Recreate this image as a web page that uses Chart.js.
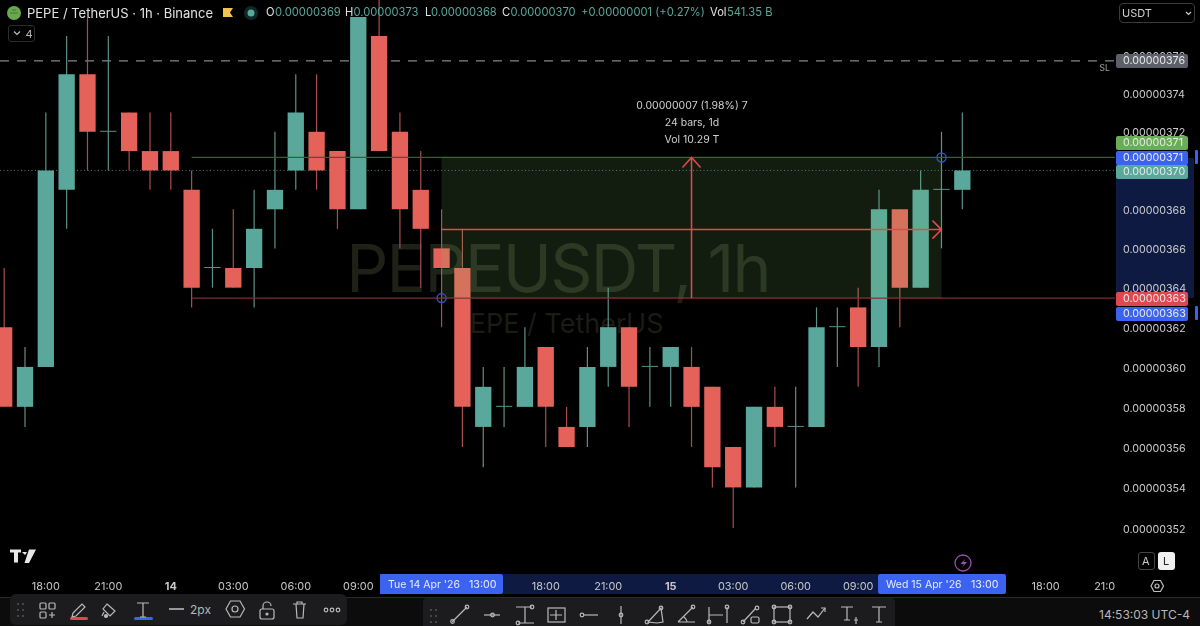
<!DOCTYPE html>
<html><head><meta charset="utf-8">
<script src="https://cdn.jsdelivr.net/npm/chart.js@4"></script>
<style>
html,body{margin:0;padding:0;background:#000;width:1200px;height:626px;overflow:hidden;font-family:Inter,"Noto Sans",sans-serif}
#stage{position:relative;width:1200px;height:626px;overflow:hidden}
#chart{position:absolute;left:0;top:0;z-index:1}
.a{position:absolute;white-space:pre;line-height:1}
.under{z-index:0}.over{z-index:2}
.pill{position:absolute;left:1116px;width:71.5px;color:#e8e8e8;font-size:10.7px;text-align:left;padding-left:7px;box-sizing:border-box;z-index:2;border-radius:2px}
svg{position:absolute;overflow:visible;z-index:3}
</style></head><body>
<div id="stage"><canvas id="chart" width="1200" height="626"></canvas></div>
<script>
// Candle data, hourly PEPE/USDT
const opens =[0.00000362,0.00000358,0.00000360,0.00000369,0.00000375,0.00000372,0.00000373,0.00000371,0.00000371,0.00000369,0.00000365,0.00000365,0.00000365,0.00000368,0.00000370,0.00000372,0.00000371,0.00000368,0.00000377,0.00000372,0.00000369,0.00000366,0.00000365,0.00000357,0.00000358,0.00000358,0.00000361,0.00000357,0.00000357,0.00000360,0.00000362,0.00000360,0.00000360,0.00000360,0.00000359,0.00000356,0.00000354,0.00000358,0.00000357,0.00000357,0.00000362,0.00000363,0.00000361,0.00000368,0.00000364,0.00000369,0.00000369];
const closes=[0.00000358,0.00000360,0.00000370,0.00000375,0.00000372,0.00000372,0.00000371,0.00000370,0.00000370,0.00000364,0.00000365,0.00000364,0.00000367,0.00000369,0.00000373,0.00000370,0.00000368,0.00000378,0.00000371,0.00000368,0.00000367,0.00000365,0.00000358,0.00000359,0.00000358,0.00000360,0.00000358,0.00000356,0.00000360,0.00000362,0.00000359,0.00000360,0.00000361,0.00000358,0.00000355,0.00000354,0.00000358,0.00000357,0.00000357,0.00000362,0.00000362,0.00000361,0.00000368,0.00000364,0.00000369,0.00000369,0.00000370];
const highs =[0.00000365,0.00000361,0.00000373,0.00000377,0.00000378,0.00000377,0.00000373,0.00000373,0.00000373,0.00000370,0.00000367,0.00000368,0.00000369,0.00000372,0.00000375,0.00000375,0.00000371,0.00000378,0.00000379,0.00000373,0.00000371,0.00000368,0.00000367,0.00000360,0.00000360,0.00000362,0.00000361,0.00000358,0.00000361,0.00000364,0.00000362,0.00000361,0.00000361,0.00000361,0.00000359,0.00000356,0.00000358,0.00000359,0.00000359,0.00000363,0.00000363,0.00000364,0.00000369,0.00000368,0.00000370,0.00000372,0.00000373];
const lows  =[0.00000358,0.00000357,0.00000360,0.00000367,0.00000370,0.00000370,0.00000370,0.00000369,0.00000369,0.00000363,0.00000364,0.00000364,0.00000363,0.00000366,0.00000369,0.00000369,0.00000367,0.00000368,0.00000371,0.00000366,0.00000364,0.00000362,0.00000356,0.00000355,0.00000357,0.00000358,0.00000356,0.00000356,0.00000356,0.00000359,0.00000357,0.00000358,0.00000358,0.00000356,0.00000354,0.00000352,0.00000354,0.00000356,0.00000354,0.00000357,0.00000360,0.00000359,0.00000360,0.00000362,0.00000364,0.00000366,0.00000368];
const dojiUpIdx=[5,10,24,31,38,40,45];
const timeTickIdx=[2,5,8,11,14,17,26,29,32,35,38,41,50,53];
const timeTickLabels=['18:00','21:00','14','03:00','06:00','09:00','18:00','21:00','15','03:00','06:00','09:00','18:00','21:00'];
const priceTicks=[0.00000352,0.00000354,0.00000356,0.00000358,0.00000360,0.00000362,0.00000364,0.00000366,0.00000368,0.00000372,0.00000374,0.00000376];
const slLevel=0.000003757, lastClose=0.00000370;
const rangeTop=0.0000037067, rangeBottom=0.0000036347, rangeMid=0.0000036696;
const rangeStartIdx=21, rangeEndIdx=45, rangeMidIdx=33, lineStartIdx=9;
const xMin=-0.2, xMax=53.33, yMin=0.000003498, yMax=0.000003789;

const UP='#5aa79c',DOWN='#e5625a',UPW='#5d9189',DOWNW='#a9504d';
const isUp=i=>closes[i]>opens[i]||dojiUpIdx.includes(i);

const overlay={id:'overlay',
 beforeDatasetsDraw(c){
  // cover the part of the last time label that runs past the plot edge
  c.ctx.save();c.ctx.fillStyle='#000';c.ctx.fillRect(1115,560,85,36);c.ctx.restore();
 },
 afterDatasetsDraw(c){
  const {ctx,scales:{x,y}}=c;
  const x0=x.getPixelForValue(rangeStartIdx),x1=x.getPixelForValue(rangeEndIdx);
  const yt=y.getPixelForValue(rangeTop),yb=y.getPixelForValue(rangeBottom),ym=y.getPixelForValue(rangeMid),xm=x.getPixelForValue(rangeMidIdx);
  ctx.save();
  ctx.fillStyle='rgba(125,205,110,0.14)';
  ctx.fillRect(x0,yt,x1-x0,yb-yt);
  ctx.strokeStyle='#e5484d';ctx.lineWidth=1.5;
  ctx.beginPath();ctx.moveTo(xm,yb);ctx.lineTo(xm,yt);
  ctx.moveTo(xm-9,yt+10);ctx.lineTo(xm,yt);ctx.lineTo(xm+9,yt+10);
  ctx.moveTo(x0,ym);ctx.lineTo(x1,ym);
  ctx.moveTo(x1-9,ym-9);ctx.lineTo(x1,ym);ctx.lineTo(x1-9,ym+9);
  ctx.stroke();
  ctx.strokeStyle='#2f4fc0';ctx.lineWidth=1.5;
  [[x0,yb],[x1,yt]].forEach(([a,b])=>{ctx.beginPath();ctx.arc(a,b,4.5,0,7);ctx.stroke();});
  ctx.restore();
}};
const idx=opens.map((_,i)=>i);
new Chart(document.getElementById('chart'),{
  data:{datasets:[
    {type:'line',order:6,data:[{x:xMin,y:slLevel},{x:xMax,y:slLevel}],borderColor:'#858585',borderWidth:1.3,borderDash:[9,8],pointRadius:0},
    {type:'line',order:5,data:[{x:xMin,y:lastClose},{x:xMax,y:lastClose}],borderColor:'#46766f',borderWidth:1,borderDash:[1,2.5],pointRadius:0},
    {type:'bar',order:4,grouped:false,barThickness:1.2,minBarLength:1,inflateAmount:0,data:idx.map(i=>({x:i,y:[lows[i],highs[i]]})),backgroundColor:idx.map(i=>isUp(i)?UPW:DOWNW)},
    {type:'bar',order:3,grouped:false,barThickness:16.3,minBarLength:1,inflateAmount:0,data:idx.map(i=>({x:i,y:[opens[i],closes[i]]})),backgroundColor:idx.map(i=>isUp(i)?(opens[i]===closes[i]?UPW:UP):DOWN)},
    {type:'line',order:2,data:[{x:lineStartIdx,y:rangeTop},{x:xMax,y:rangeTop}],borderColor:'#3b5c35',borderWidth:1.2,pointRadius:0},
    {type:'line',order:2,data:[{x:lineStartIdx,y:rangeBottom},{x:xMax,y:rangeBottom}],borderColor:'#7c2e32',borderWidth:1.2,pointRadius:0}
  ]},
  options:{responsive:false,animation:false,events:[],layout:{padding:0},
    plugins:{legend:{display:false},tooltip:{enabled:false}},
    scales:{
      x:{type:'linear',offset:false,min:xMin,max:xMax,grid:{display:false,drawTicks:false,offset:false},border:{display:false},
        afterFit(s){s.height=53;s.paddingLeft=0;s.paddingRight=0;s.paddingTop=0;s.paddingBottom=0},
        afterBuildTicks(s){s.ticks=timeTickIdx.map(v=>({value:v}))},
        ticks:{autoSkip:false,maxRotation:0,padding:7.5,color:'#c8c8c8',
          font:c=>({family:'Inter',size:10.9,weight:/^\d\d$/.test(c.tick&&c.tick.label||'')?'700':'400'}),
          callback:v=>timeTickLabels[timeTickIdx.indexOf(v)]}},
      y:{type:'logarithmic',position:'right',min:yMin,max:yMax,grid:{display:false,drawTicks:false},border:{display:false},
        afterFit(s){s.width=85;s.paddingLeft=0;s.paddingRight=0;s.paddingTop=0;s.paddingBottom=0},
        afterBuildTicks(s){s.ticks=priceTicks.map(v=>({value:v}))},
        ticks:{autoSkip:false,padding:8,labelOffset:1.5,color:'#cbcbcb',z:1,font:{family:'Inter',size:10.7},callback:v=>Number(v).toFixed(8)}}
    }},
  plugins:[overlay]
});

// Page furniture around the chart
const st=document.getElementById('stage');
function box(x,y,w,h,css,cls){const d=document.createElement('div');d.className='a '+(cls||'over');d.style.cssText+=`left:${x}px;top:${y}px;width:${w}px;height:${h}px;`+css;st.appendChild(d);return d}
function txt(x,cy,s,size,color,extra,cls){const d=document.createElement('div');d.className='a '+(cls||'over');d.textContent=s;d.style.cssText+=`left:${x}px;top:${cy-size/2}px;font-size:${size}px;color:${color};`+(extra||'');st.appendChild(d);return d}
function pill(y,h,bg,s){const d=document.createElement('div');d.className='pill';d.textContent=s;d.style.cssText+=`top:${y}px;height:${h}px;background:${bg};line-height:${h}px`;st.appendChild(d)}
function svg(inner,stroke){const s=document.createElementNS('http://www.w3.org/2000/svg','svg');s.setAttribute('width',1200);s.setAttribute('height',626);s.style.cssText='left:0;top:0;pointer-events:none';s.innerHTML=`<g fill="none" stroke="${stroke||'#b9b9b9'}" stroke-width="1.2">${inner}</g>`;st.appendChild(s)}

// under-canvas layers: watermark and crosshair bands
txt(558,268,'PEPEUSDT, 1h',66,'#1f2117','transform:translateX(-50%);letter-spacing:-1.75px;','under');
txt(558,323,'PEPE / TetherUS',27,'#1b1c15','transform:translateX(-50%);','under');
box(1116,158,78,140,'background:#0e1a42;','under');
box(503,574,375,20,'background:#0e1a42;','under');

// header
txt(27,13,'PEPE / TetherUS · 1h · Binance',13,'#e2e2e2');
[[266,'O','#e2e2e2'],[275,'0.00000369',UP],[345,'H','#e2e2e2'],[353.5,'0.00000373',UP],[425,'L','#e2e2e2'],[431,'0.00000368',UP],[502,'C','#e2e2e2'],[510.5,'0.00000370',UP],[581,'+0.00000001 (+0.27%)',UP],[710,'Vol','#e2e2e2'],[727,'541.35 B',UP]]
 .forEach(([x,s,c])=>txt(x,13,s,11.2,c));
svg('<circle cx="14" cy="13" r="7" fill="#6aa84f" stroke="none"/><path d="M10 13h8M12 10h4" stroke="#3f7a30"/><path d="M223 8h10l-3 4.5 3 4.5h-10z" fill="#f2c14e" stroke="none"/><circle cx="251" cy="13" r="7" fill="#0e2a28" stroke="none"/><circle cx="251" cy="13" r="3.5" fill="#5aa79c" stroke="none"/>');
box(8,25,27,17,'border:1px solid #2c2c2c;border-radius:3px;box-sizing:border-box;');
svg('<path d="M14 31.5l3 3 3-3" stroke="#c0c0c0"/>');
txt(25.5,34,'4',11,'#b9b9b9');

// range measure text
txt(692,106,'0.00000007 (1.98%) 7',10.5,'#d0d0d0','transform:translateX(-50%);');
txt(692,123,'24 bars, 1d',10.5,'#d0d0d0','transform:translateX(-50%);');
txt(692,140,'Vol 10.29 T',10.5,'#d0d0d0','transform:translateX(-50%);');
txt(1099.5,68.5,'SL',8.5,'#a0a0a0');

// price pills
pill(54,14,'#5d5f69','0.00000376');
pill(136,14,'#69ad58','0.00000371');
pill(150.5,14,'#3c63f0','0.00000371');
pill(165,14,'#58a89c','0.00000370');
pill(292,14,'#e0474f','0.00000363');
pill(306.5,14,'#3c63f0','0.00000363');
box(1195,150,3,14,'background:#3c63f0;border-radius:1px;');
box(1195,306,3,14,'background:#3c63f0;border-radius:1px;');

// symbol selector
box(1119,3,76,20,'border:1px solid #3a3a3a;border-radius:4px;box-sizing:border-box;');
txt(1122,13,'USDT',11,'#d0d0d0');
svg('<path d="M1186 12l2.5 2.5 2.5-2.5" stroke="#d0d0d0"/>');

// time crosshair labels
box(380,574,123,20,'background:#3c63f0;border-radius:0 2px 2px 0;');
box(878,574,128,20,'background:#3c63f0;border-radius:2px;');
txt(388,585,"Tue 14 Apr '26",10.5,'#e6ebff');
txt(469,585,'13:00',10.7,'#e6ebff');
txt(886,585,"Wed 15 Apr '26",10.5,'#e6ebff');
txt(971,585,'13:00',10.7,'#e6ebff');

// corner widgets
svg('<path d="M10 549.5h11v3h-3v10h-4v-10h-4z M22 552h5l-2 3z M29 549.5h7l-7 13.5h-4.5z" fill="#e8e8e8" stroke="none"/>');
svg('<circle cx="963" cy="563" r="8" stroke="#9a4fb5" stroke-width="1.3"/><path d="M965.5 558.5l-5 5.5h3.5l-2 3.5 5-5.5h-3.5z" fill="#a04fc0" stroke="none"/>');
box(1138,552,17,18,'border:1px solid #444;border-radius:3px;box-sizing:border-box;');
box(1158,552,17,18,'background:#f0f0f0;border-radius:3px;');
txt(1142,561,'A',11,'#c8c8c8');
txt(1163,561,'L',11,'#222');
svg('<path d="M1151 586l3-5.5h6.5l3 5.5-3 5.5h-6.5z"/><circle cx="1157" cy="586" r="2"/>','#c0c0c0');

// bottom bar
box(0,597,1200,29,'background:#0c0c0c;');
box(0,597,1200,1,'background:#2b2b2b;');
box(10,594,337,31,'background:#1c1c1e;border-radius:6px;');
box(423,598,472,28,'background:#1c1c1e;border-radius:4px 4px 0 0;');
txt(1099,615,'14:53:03 UTC-4',12,'#b8b8b8');
txt(190,610,'2px',12,'#b8b8b8');
box(70,617,18,3,'background:#e0474f;border-radius:2px;');
box(134,617,19,3,'background:#3c63f0;border-radius:2px;');
svg(
 '<g fill="#555" stroke="none">'+[[18,604],[23,604],[18,610],[23,610],[18,616],[23,616],[431,610],[436,610],[431,616],[436,616],[431,622],[436,622]].map(p=>`<circle cx="${p[0]}" cy="${p[1]}" r="1"/>`).join('')+'</g>'
 +'<rect x="40" y="603" width="6" height="6" rx="1"/><rect x="49" y="603" width="6" height="6" rx="1"/><rect x="40" y="612" width="6" height="6" rx="1"/><path d="M49 615h6M52 612v6"/>'
 +'<path d="M73 613l9-9 3 3-9 9-4 1z"/>'
 +'<path d="M107 604l8 7-5 5-7-7z M104 612l-2 4"/><circle cx="106" cy="616" r="1.5" fill="#b9b9b9"/>'
 +'<path d="M137 603h12M143 603v14M140 617h6"/>'
 +'<path d="M169 609h15" stroke-width="1.6"/>'
 +'<path d="M226 609l4.5-8h9.5l4.5 8-4.5 8h-9.5z"/><circle cx="235" cy="609" r="3"/>'
 +'<rect x="260" y="609" width="14" height="10" rx="2"/><path d="M263 609v-3a4 4 0 0 1 8 0"/><circle cx="267" cy="614" r="1" fill="#b9b9b9"/>'
 +'<path d="M293 604h13M296 604l1 14h6l1-14M297 604v-2h5v2"/>'
 +'<circle cx="326" cy="610" r="1.8"/><circle cx="332" cy="610" r="1.8"/><circle cx="338" cy="610" r="1.8"/>'
 +'<path d="M452 622l15-15"/><circle cx="452.5" cy="621.5" r="1.8"/><circle cx="467" cy="607" r="1.8"/>'
 +'<path d="M484 615h16"/><circle cx="492.5" cy="615" r="1.8"/>'
 +'<path d="M516 607h16M518 623h16M525 607v16"/><circle cx="532" cy="607" r="1.8"/><circle cx="518" cy="623" r="1.8"/>'
 +'<rect x="548" y="608" width="17" height="14"/><path d="M556 610v10M550 615h12"/>'
 +'<path d="M584 615h14"/><circle cx="582" cy="615" r="1.8"/>'
 +'<path d="M621 606v18"/><circle cx="621" cy="615" r="1.8"/>'
 +'<path d="M648 622l13-14 2 14-6 1z"/><circle cx="647" cy="622" r="1.8"/><circle cx="661" cy="608" r="1.8"/>'
 +'<path d="M678 622l15-15M678 622h17M687 622a8 8 0 0 0-3-5"/><circle cx="693" cy="607" r="1.8"/>'
 +'<path d="M709 607v16M727 607v16M709 615h14"/><circle cx="727" cy="607" r="1.8"/><circle cx="709" cy="622" r="1.8"/>'
 +'<path d="M743 622l13-14"/><circle cx="743" cy="622" r="1.8"/><circle cx="757" cy="608" r="1.8"/><rect x="751" y="617" width="8" height="6" rx="1.5"/>'
 +'<rect x="774" y="607" width="16" height="15"/><circle cx="774" cy="607" r="1.8"/><circle cx="790" cy="607" r="1.8"/><circle cx="774" cy="622" r="1.8"/><circle cx="790" cy="622" r="1.8"/>'
 +'<path d="M807 619l6-7 5 5 7-9"/><path d="M821 608h4v4"/>'
 +'<path d="M841 607h12M847 607v13M844 620h6M856 617v7M854 620h4"/>'
 +'<path d="M872 607h14M879 607v15M876 622h6"/>'
);
</script></body></html>
